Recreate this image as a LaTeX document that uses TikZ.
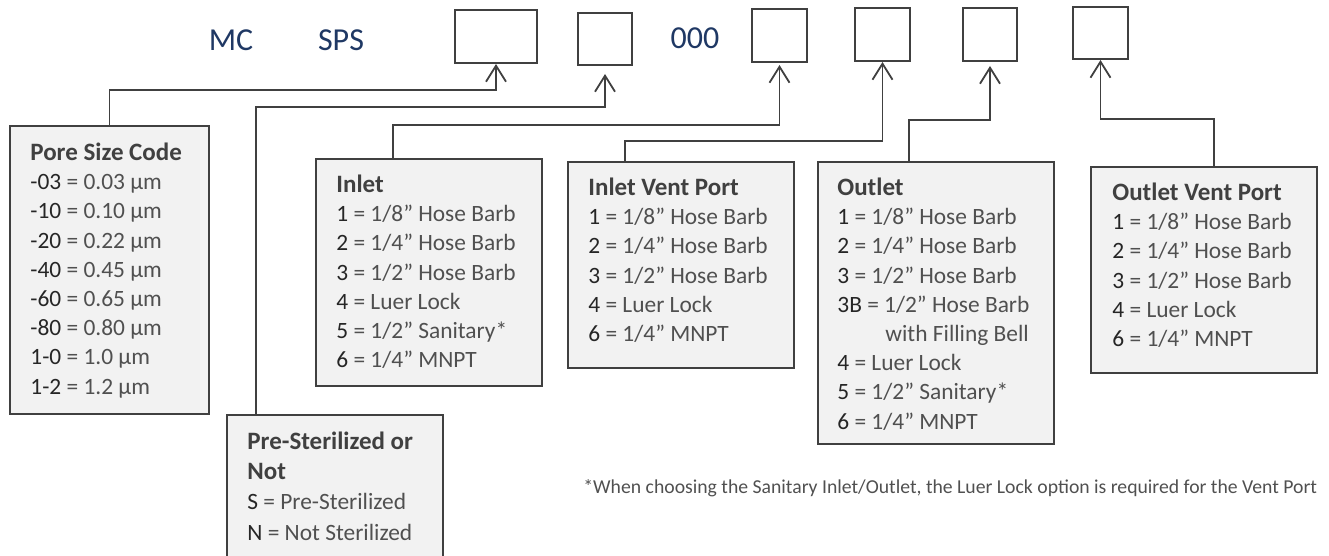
\documentclass[tikz,border=0pt]{standalone}
\usepackage{fontspec}
\setmainfont{Carlito}
\usetikzlibrary{positioning, arrows.meta}
\definecolor{LineGray}{HTML}{404040}
\definecolor{BoxFill} {HTML}{F2F2F2}
\definecolor{CodeDark}{HTML}{262626}
\definecolor{DescGray}{HTML}{505050}
\definecolor{PartNavy}{HTML}{1F3864}
\newcommand{\hd}[1]{{\fontsize{12.5}{15}\selectfont\bfseries\color{LineGray}#1}}
\newcommand{\opt}[2]{{\color{CodeDark}#1} = #2}
\tikzset{
  every node/.style={font=\fontsize{11.7}{14.6}\selectfont, text=DescGray},
  % empty slots of the part number
  slot/.style={draw=LineGray, line width=1pt, fill=white, inner sep=0pt,
               anchor=north west},
  infobox/.style={draw=LineGray, line width=0.9pt, fill=BoxFill, inner sep=0pt,
                  anchor=north west},
  infotext/.style={align=left, inner sep=0pt},
  partno/.style={font=\fontsize{16}{19}\selectfont, text=PartNavy},
  conn/.style={draw=LineGray, line width=0.9pt,
               -{Straight Barb[length=8pt, width=10pt]}},
  note/.style={font=\fontsize{9.85}{12}\selectfont, text=DescGray, inner sep=0pt},
}

\begin{document}
\begin{tikzpicture}[x=0.5pt, y=-0.5pt]
\useasboundingbox (0,0) rectangle (1329,556);

% part number row
\node[partno] (mc)  at (231,40) {MC};
\node[partno] (sps) at (341,40) {SPS};
\node[partno] (zero) at (695,38) {000};
\node[slot, minimum width=41pt,   minimum height=26.5pt] (cA) at (454,9) {};
\node[slot, minimum width=27pt,   minimum height=26pt]   (cB) at (577,12) {};
\node[slot, minimum width=27.5pt, minimum height=26.5pt] (cC) at (751,8) {};
\node[slot, minimum width=27.5pt, minimum height=26.5pt] (cD) at (854,7) {};
\node[slot, minimum width=27pt,   minimum height=26.5pt] (cE) at (962,7) {};
\node[slot, minimum width=27.5pt, minimum height=26pt]   (cF) at (1072,6) {};

% option boxes
\node[infobox, minimum width=99.5pt, minimum height=144pt]  (pore)   at (9,125) {};
\node[infobox, minimum width=108pt,  minimum height=80pt]   (pres)   at (226,414) {};
\node[infobox, minimum width=113pt,  minimum height=113.5pt] (inlet)  at (315,158) {};
\node[infobox, minimum width=113pt,  minimum height=103pt]  (ivent)  at (567,161) {};
\node[infobox, minimum width=118pt,  minimum height=141pt]  (outlet) at (817,161) {};
\node[infobox, minimum width=113pt,  minimum height=103pt]  (ovent)  at (1090,166) {};

\node[infotext, below right=8.75pt and 10.5pt of pore.north west] (poretxt) {%
  \hd{Pore Size Code}\\
  \opt{-03}{0.03 µm}\\
  \opt{-10}{0.10 µm}\\
  \opt{-20}{0.22 µm}\\
  \opt{-40}{0.45 µm}\\
  \opt{-60}{0.65 µm}\\
  \opt{-80}{0.80 µm}\\
  \opt{1-0}{1.0 µm}\\
  \opt{1-2}{1.2 µm}};
\node[infotext, below right=8.75pt and 10.5pt of pres.north west] (prestxt) {%
  \hd{Pre-Sterilized or}\\[0.5pt]
  \hd{Not}\\[0.5pt]
  \opt{S}{Pre-Sterilized}\\[0.5pt]
  \opt{N}{Not Sterilized}};
\node[infotext, below right=8.25pt and 10.5pt of inlet.north west] (inlettxt) {%
  \hd{Inlet}\\
  \opt{1}{1/8” Hose Barb}\\
  \opt{2}{1/4” Hose Barb}\\
  \opt{3}{1/2” Hose Barb}\\
  \opt{4}{Luer Lock}\\
  \opt{5}{1/2” Sanitary*}\\
  \opt{6}{1/4” MNPT}};
\node[infotext, below right=8.25pt and 10.5pt of ivent.north west] (iventtxt) {%
  \hd{Inlet Vent Port}\\
  \opt{1}{1/8” Hose Barb}\\
  \opt{2}{1/4” Hose Barb}\\
  \opt{3}{1/2” Hose Barb}\\
  \opt{4}{Luer Lock}\\
  \opt{6}{1/4” MNPT}};
\node[infotext, below right=8.25pt and 10pt of outlet.north west] (outlettxt) {%
  \hd{Outlet}\\
  \opt{1}{1/8” Hose Barb}\\
  \opt{2}{1/4” Hose Barb}\\
  \opt{3}{1/2” Hose Barb}\\
  \opt{3B}{1/2” Hose Barb}\\
  \hspace*{24pt}with Filling Bell\\
  \opt{4}{Luer Lock}\\
  \opt{5}{1/2” Sanitary*}\\
  \opt{6}{1/4” MNPT}};
\node[infotext, below right=8.25pt and 11pt of ovent.north west] (oventtxt) {%
  \hd{Outlet Vent Port}\\
  \opt{1}{1/8” Hose Barb}\\
  \opt{2}{1/4” Hose Barb}\\
  \opt{3}{1/2” Hose Barb}\\
  \opt{4}{Luer Lock}\\
  \opt{6}{1/4” MNPT}};

\node[note, anchor=west] (foot) at (583,488)
  {*When choosing the Sanitary Inlet/Outlet, the Luer Lock option is required for the Vent Port};

% connectors
\draw[conn] (pore.north) |- ([yshift=-13pt]cA.south) -- (cA.south);
\draw[conn] ([xshift=-39.5pt]pres.north) |- ([yshift=-20.5pt]cB.south) -- ([yshift=-4pt]cB.south);
\draw[conn] ([xshift=-18pt]inlet.north) |- ([yshift=-31pt]cC.south) -- ([yshift=-1pt]cC.south);
\draw[conn] ([xshift=-28pt]ivent.north) |- ([yshift=-39.5pt]cD.south) -- (cD.south);
\draw[conn] ([xshift=-13.5pt]outlet.north) |- ([yshift=-29pt]cE.south) -- ([yshift=-2pt]cE.south);
\draw[conn] ([xshift=5pt]ovent.north) |- ([yshift=-29.5pt]cF.south) -- (cF.south);
\end{tikzpicture}
\end{document}
